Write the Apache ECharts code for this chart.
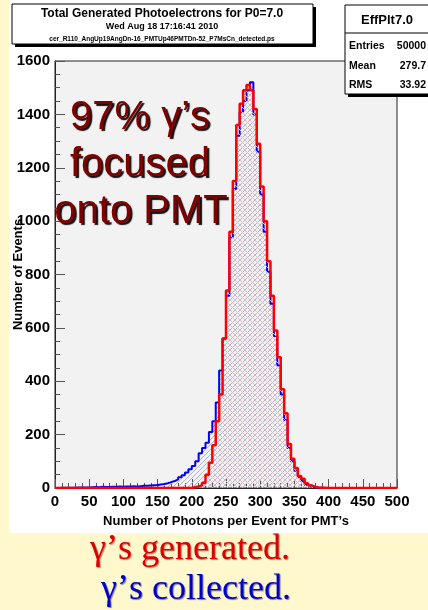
<!DOCTYPE html>
<html>
<head>
<meta charset="utf-8">
<script src="https://cdn.jsdelivr.net/npm/echarts@6/dist/echarts.min.js"></script>
<style>
html,body{margin:0;padding:0;background:#fff8cc;}
#chart{width:428px;height:610px;}
</style>
</head>
<body>
<div id="chart"></div>
<script>
// ---- data (bins of width 5 from 0 to 500) ----
const binWidth = 5;
const xMin = 0, xMax = 500;
const xTicks = [0, 50, 100, 150, 200, 250, 300, 350, 400, 450, 500];
const yTicks = [0, 200, 400, 600, 800, 1000, 1200, 1400, 1600];

// gamma's generated (red)
const generated = [
  0,0,0,0,0,0,0,0,0,0,
  0,0,0,0,0,0,0,0,0,0,
  0,0,0,0,0,0,0,0,0,0,
  0,0,0,0,0,0,0,0,0,0,
  3,6,10,20,50,95,160,250,350,560,
  740,960,1150,1360,1440,1490,1510,1490,1420,1290,
  1130,1000,850,720,590,490,370,280,165,110,
  75,45,35,18,10,5,2,1,1,0,
  0,0,0,0,0,0,0,0,0,0,
  0,0,0,0,0,0,0,0,0,0
];
// gamma's collected (blue)
const collected = [
  0,1,1,1,1,1,2,2,2,2,
  3,4,3,5,4,4,5,5,6,5,
  6,6,7,6,7,8,8,9,10,11,
  13,15,18,22,26,32,40,48,58,70,
  82,100,130,150,170,210,250,320,440,560,
  720,940,1120,1320,1410,1450,1490,1520,1400,1260,
  1100,960,810,690,570,460,350,255,150,100,
  65,40,25,12,6,3,1,1,0,0,
  0,0,0,0,0,0,0,0,0,0,
  0,0,0,0,0,0,0,0,0,0
];

const titleText = 'Total Generated Photoelectrons for P0=7.0';
const dateText = 'Wed Aug 18 17:16:41 2010';
const fileText = 'cer_R110_AngUp19AngDn-16_PMTUp46PMTDn-52_P7MsCn_detected.ps';
const statsName = 'EffPlt7.0';
const statsLabels = ['Entries', 'Mean', 'RMS'];
const statsValues = ['50000', '279.7', '33.92'];
const xTitle = 'Number of Photons per Event for PMT\u2019s';
const yTitle = 'Number of Events';
const noteLines = ['97% \u03b3\u2019s', 'focused', 'onto PMT'];
const legendGenerated = '\u03b3\u2019s generated.';
const legendCollected = '\u03b3\u2019s collected.';

function toSteps(arr) {
  const pts = arr.map((v, i) => [xMin + i * binWidth, v]);
  pts.push([xMax, arr[arr.length - 1]]);
  return pts;
}

function hatch(color, dir, size) {
  const c = document.createElement('canvas');
  c.width = size; c.height = size;
  const g = c.getContext('2d');
  g.fillStyle = color;
  for (let i = 0; i < size; i++) {
    const y = dir > 0 ? size - 1 - i : i;
    g.fillRect(i, y, 1, 1);
  }
  return c;
}

const chart = echarts.init(document.getElementById('chart'), null, {renderer: 'canvas'});
const F = '"Liberation Sans", Arial, Helvetica, sans-serif';
const SERIF = '"Liberation Serif", "Times New Roman", serif';

const option = {
  backgroundColor: '#fff8cc',
  animation: false,
  grid: {
    left: 55, right: 31, top: 61, bottom: 122,
    outerBoundsMode: 'none', containLabel: false,
    show: true, backgroundColor: '#f2f2f2', borderColor: '#222', borderWidth: 1
  },
  xAxis: {
    type: 'value', min: xMin, max: xMax, interval: 50,
    name: xTitle, nameLocation: 'middle', nameGap: 27, nameMoveOverlap: false,
    nameTextStyle: {fontFamily: F, fontWeight: 'bold', fontSize: 13, color: '#000'},
    axisLine: {show: true, onZero: false, lineStyle: {color: '#222', width: 1}},
    axisTick: {show: true, inside: true, length: 9, lineStyle: {color: '#555'}},
    minorTick: {show: true, splitNumber: 5, length: 5, lineStyle: {color: '#555'}},
    splitLine: {show: false},
    axisLabel: {fontFamily: F, fontWeight: 'bold', fontSize: 15, color: '#000', margin: 6,
      formatter: v => xTicks.includes(v) ? String(v) : ''}
  },
  yAxis: {
    type: 'value', min: 0, max: 1600, interval: 200,
    name: yTitle, nameLocation: 'middle', nameGap: 30, nameRotate: 90, nameMoveOverlap: false,
    nameTextStyle: {fontFamily: F, fontWeight: 'bold', fontSize: 13, color: '#000'},
    axisLine: {show: true, lineStyle: {color: '#222', width: 1}},
    axisTick: {show: true, inside: true, length: 10, lineStyle: {color: '#555'}},
    minorTick: {show: true, splitNumber: 4, length: 5, lineStyle: {color: '#555'}},
    splitLine: {show: false},
    axisLabel: {fontFamily: F, fontWeight: 'bold', fontSize: 15, color: '#000', margin: 5,
      formatter: v => yTicks.includes(v) ? String(v) : ''}
  },
  series: [
    {
      name: 'collected', type: 'line', step: 'end', showSymbol: false,
      data: toSteps(collected),
      lineStyle: {color: '#0000ff', width: 2},
      areaStyle: {color: {image: hatch('#b4b4c6', 1, 5), repeat: 'repeat'}, opacity: 1},
      z: 3
    },
    {
      name: 'generated', type: 'line', step: 'end', showSymbol: false,
      data: toSteps(generated),
      lineStyle: {color: '#ff0000', width: 2.5},
      areaStyle: {color: {image: hatch('#dcbcc8', -1, 5), repeat: 'repeat'}, opacity: 1},
      z: 4
    }
  ],
  graphic: [
    {type: 'rect', z: -100, shape: {x: 9, y: 0, width: 419, height: 533}, style: {fill: '#ffffff'}, silent: true},
    // title box
    {type: 'rect', z: 10, shape: {x: 15, y: 7, width: 301, height: 40}, style: {fill: '#000'}},
    {type: 'rect', z: 11, shape: {x: 12, y: 4, width: 301, height: 40}, style: {fill: '#fff', stroke: '#000', lineWidth: 1}},
    {type: 'text', z: 12, style: {x: 162, y: 14, text: titleText, font: 'bold 12px ' + F, fill: '#000', align: 'center', verticalAlign: 'middle'}},
    {type: 'text', z: 12, style: {x: 162, y: 27, text: dateText, font: 'bold 9px ' + F, fill: '#000', align: 'center', verticalAlign: 'middle'}},
    {type: 'text', z: 12, style: {x: 162, y: 39, text: fileText, font: 'bold 6.5px ' + F, fill: '#000', align: 'center', verticalAlign: 'middle'}},
    // stats box
    {type: 'rect', z: 10, shape: {x: 348, y: 8, width: 90, height: 89}, style: {fill: '#000'}},
    {type: 'rect', z: 11, shape: {x: 345, y: 5, width: 90, height: 89}, style: {fill: '#fff', stroke: '#000', lineWidth: 1}},
    {type: 'line', z: 12, shape: {x1: 345, y1: 33, x2: 428, y2: 33}, style: {stroke: '#000', lineWidth: 1}},
    {type: 'text', z: 12, style: {x: 387, y: 20, text: statsName, font: 'bold 13px ' + F, fill: '#000', align: 'center', verticalAlign: 'middle'}},
    {type: 'text', z: 12, style: {x: 349, y: 46, text: statsLabels[0], font: 'bold 10.5px ' + F, fill: '#000', align: 'left', verticalAlign: 'middle'}},
    {type: 'text', z: 12, style: {x: 426, y: 46, text: statsValues[0], font: 'bold 10.5px ' + F, fill: '#000', align: 'right', verticalAlign: 'middle'}},
    {type: 'text', z: 12, style: {x: 349, y: 66, text: statsLabels[1], font: 'bold 10.5px ' + F, fill: '#000', align: 'left', verticalAlign: 'middle'}},
    {type: 'text', z: 12, style: {x: 426, y: 66, text: statsValues[1], font: 'bold 10.5px ' + F, fill: '#000', align: 'right', verticalAlign: 'middle'}},
    {type: 'text', z: 12, style: {x: 349, y: 85, text: statsLabels[2], font: 'bold 10.5px ' + F, fill: '#000', align: 'left', verticalAlign: 'middle'}},
    {type: 'text', z: 12, style: {x: 426, y: 85, text: statsValues[2], font: 'bold 10.5px ' + F, fill: '#000', align: 'right', verticalAlign: 'middle'}},
    // annotation
    {type: 'text', z: 20, style: {x: 140, y: 98, text: noteLines[0], font: '40px ' + F, fill: '#800000', align: 'center', verticalAlign: 'alphabetic',
      textShadowColor: '#111', textShadowBlur: 1, textShadowOffsetX: 2, textShadowOffsetY: 2}},
    {type: 'text', z: 20, style: {x: 140, y: 145, text: noteLines[1], font: '40px ' + F, fill: '#800000', align: 'center', verticalAlign: 'alphabetic',
      textShadowColor: '#111', textShadowBlur: 1, textShadowOffsetX: 2, textShadowOffsetY: 2}},
    {type: 'text', z: 20, style: {x: 141, y: 192, text: noteLines[2], font: '40px ' + F, fill: '#800000', align: 'center', verticalAlign: 'alphabetic',
      textShadowColor: '#111', textShadowBlur: 1, textShadowOffsetX: 2, textShadowOffsetY: 2}},
    // bottom legend texts
    {type: 'text', z: 20, style: {x: 190, y: 550, text: legendGenerated, font: '36px ' + SERIF, fill: '#dd0000', align: 'center', verticalAlign: 'middle',
      textShadowColor: 'rgba(120,0,0,0.5)', textShadowBlur: 1, textShadowOffsetX: 1, textShadowOffsetY: 1}},
    {type: 'text', z: 20, style: {x: 196, y: 590, text: legendCollected, font: '36px ' + SERIF, fill: '#0000cc', align: 'center', verticalAlign: 'middle',
      textShadowColor: 'rgba(0,0,100,0.5)', textShadowBlur: 1, textShadowOffsetX: 1, textShadowOffsetY: 1}}
  ]
};
chart.setOption(option);
</script>
</body>
</html>
